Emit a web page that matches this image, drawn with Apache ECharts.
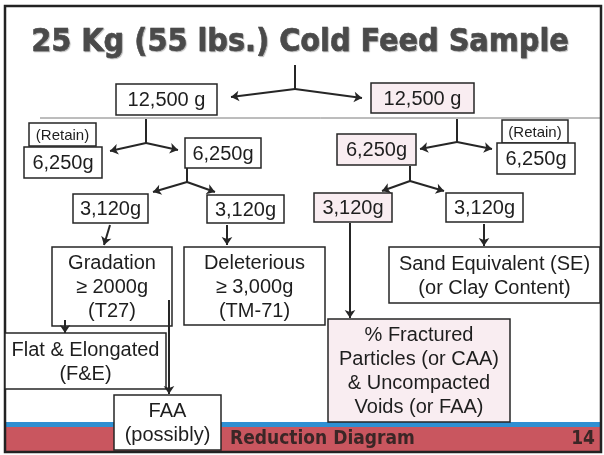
<!DOCTYPE html>
<html>
<head>
<meta charset="utf-8">
<script src="https://cdn.jsdelivr.net/npm/echarts@6/dist/echarts.min.js"></script>
<style>
  html, body { margin: 0; padding: 0; background: #fff; }
  #diagram { width: 604px; height: 455px; }
</style>
</head>
<body>
<div id="diagram"></div>
<script>
//----------------------Data----------------------
let title_text = "25 Kg (55 lbs.) Cold Feed Sample";
let footer_text = "Reduction Diagram";
let page_number = "14";

let box_labels = [
    "12,500 g", "12,500 g",
    "(Retain)", "6,250g", "6,250g", "6,250g", "(Retain)", "6,250g",
    "3,120g", "3,120g", "3,120g", "3,120g",
    "Gradation\n\u2265 2000g\n(T27)",
    "Deleterious\n\u2265 3,000g\n(TM-71)",
    "Sand Equivalent (SE)\n(or Clay Content)",
    "Flat & Elongated\n(F&E)",
    "FAA\n(possibly)",
    "% Fractured\nParticles (or CAA)\n& Uncompacted\nVoids (or FAA)"
];
// which boxes are shaded pink on the slide
let box_tone = [
    "white", "pink",
    "white", "white", "white", "pink", "white", "white",
    "white", "white", "pink", "white",
    "white", "white", "white", "white", "white", "pink"
];

//--------------------Location--------------------
// [x1, y1, x2, y2] in slide pixels, same order as box_labels
let box_layout = [
    [116, 84, 217, 115], [371, 83, 474, 113],
    [29, 123, 96, 146], [24, 147, 102, 178], [185, 138, 261, 168],
    [337, 134, 416, 165], [502, 120, 568, 143], [497, 143, 575, 174],
    [73, 194, 148, 223], [207, 195, 284, 223], [314, 193, 392, 222], [446, 193, 523, 222],
    [52, 247, 172, 326], [184, 247, 325, 325], [389, 247, 600, 303],
    [5, 333, 166, 389], [114, 395, 221, 450], [328, 319, 510, 422]
];
// stems without arrow heads
let stem_links = [
    [[295, 65], [295, 89]],
    [[146, 119], [146, 143]],
    [[187, 168], [187, 182]],
    [[457, 119], [457, 142]],
    [[410, 166], [410, 181]]
];
// connectors ending with an arrow head
let arrow_links = [
    [[295, 89], [231, 97]], [[295, 89], [362, 98]],
    [[146, 143], [110, 151]], [[146, 143], [178, 150]],
    [[187, 182], [153, 192]], [[187, 182], [215, 192]],
    [[457, 142], [420, 149]], [[457, 142], [492, 149]],
    [[410, 181], [382, 191]], [[410, 181], [444, 191]],
    [[110, 225], [104, 245]], [[227, 225], [227, 245]],
    [[350, 223], [350, 318]], [[484, 224], [484, 246]],
    [[65, 320], [65, 333]], [[169, 300], [169, 394]]
];

//----------------------Chart----------------------
let diagram_chart = echarts.init(document.getElementById("diagram"));

let box_data = box_layout.map(function (b, i) {
    return {value: b, name: box_labels[i]};
});

function render_box(params, api) {
    let p1 = api.coord([api.value(0), api.value(1)]);
    let p2 = api.coord([api.value(2), api.value(3)]);
    let label = box_labels[params.dataIndex];
    let small = label === "(Retain)";
    return {
        type: "group",
        children: [
            {
                type: "rect",
                shape: {x: p1[0], y: p1[1], width: p2[0] - p1[0], height: p2[1] - p1[1]},
                style: {
                    fill: box_tone[params.dataIndex] === "pink" ? "#f9edf1" : "#ffffff",
                    stroke: "#262626",
                    lineWidth: 1.5
                }
            },
            {
                type: "text",
                style: {
                    text: label,
                    x: (p1[0] + p2[0]) / 2,
                    y: (p1[1] + p2[1]) / 2 + 1,
                    align: "center",
                    verticalAlign: "middle",
                    fontFamily: "Liberation Sans, Arial, sans-serif",
                    fontSize: small ? 15 : 20,
                    lineHeight: 24,
                    fill: "#1e1e1e"
                }
            }
        ]
    };
}

let diagram_option = {
    animation: false,
    backgroundColor: "#ffffff",
    grid: {left: 0, right: 0, top: 0, bottom: 0},
    xAxis: {type: "value", min: 0, max: 604, show: false},
    yAxis: {type: "value", min: 0, max: 455, inverse: true, show: false},
    graphic: [
        // footer band
        {type: "rect", shape: {x: 6, y: 422, width: 594, height: 5}, style: {fill: "#2f8fd2"}},
        {type: "rect", shape: {x: 6, y: 427, width: 594, height: 25}, style: {fill: "#c9565f"}},
        // thin rule under the first split
        {type: "line", shape: {x1: 40, y1: 118, x2: 601, y2: 118}, style: {stroke: "#7a7a7a", lineWidth: 1}},
        // slide frame
        {type: "rect", shape: {x: 5, y: 6, width: 596, height: 446}, style: {fill: null, stroke: "#222222", lineWidth: 2.5}},
        {
            type: "text",
            style: {
                text: title_text,
                x: 300, y: 43,
                align: "center", verticalAlign: "middle",
                fontFamily: "DejaVu Sans Condensed, DejaVu Sans, sans-serif",
                fontWeight: "bold",
                fontSize: 32,
                fill: "#4a4a4a",
                stroke: "#333333",
                lineWidth: 0.5,
                textShadowColor: "rgba(0,0,0,0.25)",
                textShadowOffsetX: 1,
                textShadowOffsetY: 1,
                textShadowBlur: 1
            }
        },
        {
            type: "text",
            style: {
                text: footer_text,
                x: 230, y: 439,
                align: "left", verticalAlign: "middle",
                fontFamily: "DejaVu Sans Condensed, DejaVu Sans, sans-serif",
                fontWeight: "bold", fontSize: 19, fill: "#3a2626"
            }
        },
        {
            type: "text",
            style: {
                text: page_number,
                x: 595, y: 439,
                align: "right", verticalAlign: "middle",
                fontFamily: "DejaVu Sans Condensed, DejaVu Sans, sans-serif",
                fontWeight: "bold", fontSize: 19, fill: "#3a2626"
            }
        }
    ],
    series: [
        {
            type: "custom",
            coordinateSystem: "cartesian2d",
            renderItem: render_box,
            encode: {x: [0, 2], y: [1, 3]},
            data: box_data,
            z: 3
        },
        {
            type: "lines",
            coordinateSystem: "cartesian2d",
            symbol: ["none", "none"],
            lineStyle: {color: "#262626", width: 2, opacity: 1},
            data: stem_links.map(function (c) { return {coords: c}; }),
            z: 4
        },
        {
            type: "lines",
            coordinateSystem: "cartesian2d",
            symbol: ["none", "arrow"],
            symbolSize: 8,
            lineStyle: {color: "#262626", width: 2, opacity: 1},
            data: arrow_links.map(function (c) { return {coords: c}; }),
            z: 4
        }
    ]
};
diagram_chart.setOption(diagram_option, true);
</script>
</body>
</html>
